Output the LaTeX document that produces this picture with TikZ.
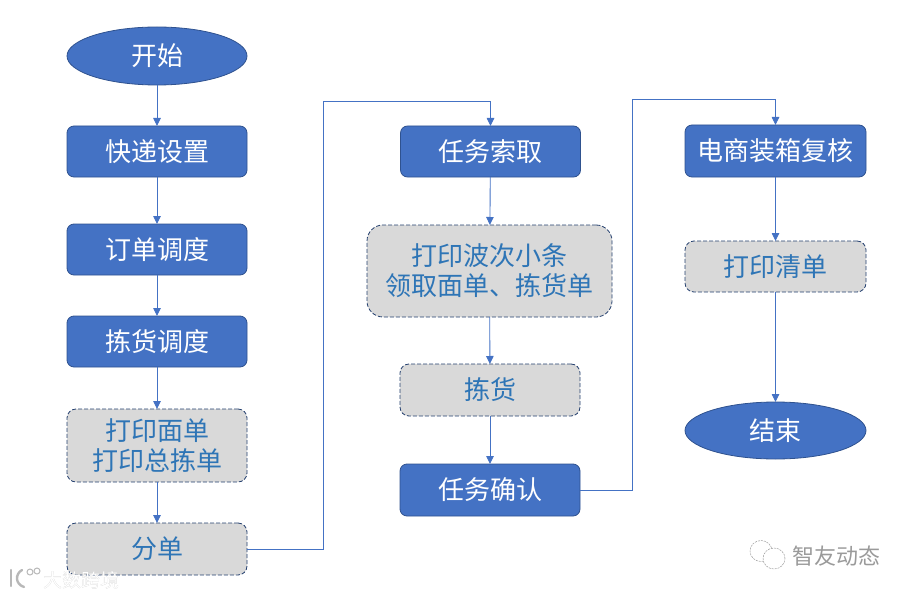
\documentclass[tikz,border=0pt]{standalone}
\usepackage{fontspec}
\setmainfont{Noto Sans CJK SC}
\usetikzlibrary{shapes.geometric,arrows.meta}
\definecolor{boxblue}{HTML}{4472C4}
\definecolor{boxedge}{HTML}{2F528F}
\definecolor{dashedge}{HTML}{24406F}
\definecolor{boxgray}{HTML}{D9D9D9}
\definecolor{txtblue}{HTML}{2E75B6}
\definecolor{markgray}{HTML}{9A9A9A}

\begin{document}
\begin{tikzpicture}[
  x=1pt, y=-1pt,
  base/.style={minimum width=180pt, minimum height=51pt, inner sep=0pt, outer sep=0pt, align=center, font=\fontsize{26}{30}\selectfont},
  task/.style={base, draw=boxedge, line width=0.8pt, fill=boxblue, rounded corners=7pt, text=white},
  manual/.style={base, draw=dashedge, line width=0.8pt, dash pattern=on 4pt off 2pt, fill=boxgray, rounded corners=9pt, text=txtblue},
  terminal/.style={base, ellipse, draw=boxedge, line width=0.8pt, fill=boxblue, text=white},
  ln/.style={draw=boxblue, line width=0.9pt, -{Triangle[length=8pt,width=7.5pt]}},
  wmark/.style={inner sep=0pt, text=markgray},
  bubble/.style={draw=markgray, ellipse, line width=0.5pt, dash pattern=on 2pt off 1pt, inner sep=0pt}
]
\useasboundingbox (0,0) rectangle (909,596);
% left column
\node[terminal, minimum height=58pt] (start) at (157,56) {开始};
\node[task] (express) at (157,151.5) {快递设置};
\node[task] (order) at (157,249.5) {订单调度};
\node[task] (pick) at (157,341.5) {拣货调度};
\node[manual, minimum height=73pt] (print) at (157,445.5) {打印面单\\打印总拣单};
\node[manual, minimum height=52pt] (split) at (157,549) {分单};
% middle column
\node[task] (fetch) at (490.5,151.5) {任务索取};
\node[manual, minimum width=245pt, minimum height=92pt, rounded corners=16pt] (wave) at (489.5,271) {打印波次小条\\领取面单、拣货单};
\node[manual, minimum height=52pt] (goods) at (490,390) {拣货};
\node[task, minimum height=52pt] (confirm) at (490,490) {任务确认};
% right column
\node[task, minimum width=181pt, minimum height=52pt] (check) at (775.5,151) {电商装箱复核};
\node[manual, minimum width=181pt] (list) at (775.5,266.5) {打印清单};
\node[terminal, minimum width=181pt, minimum height=57pt] (stop) at (775.5,430.5) {结束};
% corners of the two long connectors
\coordinate (a1) at (323,549);
\coordinate (a2) at (323,101);
\coordinate (a3) at (490.5,101);
\coordinate (b1) at (632,490);
\coordinate (b2) at (632,99);
\coordinate (b3) at (775.5,99);
\foreach \p/\q in {start/express,express/order,order/pick,pick/print,print/split,fetch/wave,wave/goods,goods/confirm,check/list,list/stop} {\draw[ln] (\p) -- (\q);}
\draw[ln] (split.east) -- (a1) -- (a2) -- (a3) -- (fetch.north);
\draw[ln] (confirm.east) -- (b1) -- (b2) -- (b3) -- (check.north);
% watermarks
\node[wmark, font=\fontsize{19}{19}\selectfont, text=markgray!70] (shade1) at (81.6,580.6) {大数跨境};
\node[wmark, font=\fontsize{19}{19}\selectfont, text=white] (mark1) at (81,580) {大数跨境};
\node[wmark, font=\fontsize{22}{22}\selectfont] (mark2) at (836,556) {智友动态};
\node[bubble, minimum width=22pt, minimum height=21pt] (bubble1) at (761,551) {};
\node[bubble, fill=white, minimum width=22pt, minimum height=21pt] (bubble2) at (774,558.5) {};
\draw[markgray!70, line width=2.4pt, line cap=round] (11,570) -- (11,586);
\draw[markgray!70, line width=2.4pt, line cap=round] (22,570) .. controls (15,574) and (15,584) .. (24,587);
\node[draw=markgray!70, circle, line width=1pt, minimum size=6pt, inner sep=0pt] (dot1) at (30,572) {};
\node[draw=markgray!70, circle, line width=1pt, minimum size=6pt, inner sep=0pt] (dot2) at (37,571) {};
\end{tikzpicture}
\end{document}
